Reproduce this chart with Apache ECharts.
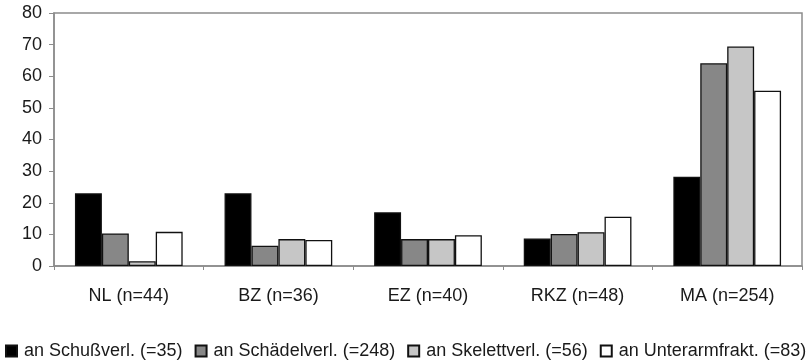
<!DOCTYPE html>
<html><head><meta charset="utf-8">
<script src="https://cdn.jsdelivr.net/npm/echarts@6/dist/echarts.min.js"></script>
<style>html,body{margin:0;padding:0;background:#fff}#c{width:812px;height:363px}</style>
</head><body><div id="c"></div>
<script>
const categories = ["NL (n=44)", "BZ (n=36)", "EZ (n=40)", "RKZ (n=48)", "MA (n=254)"];
const seriesNames = ["an Schußverl. (=35)", "an Schädelverl. (=248)", "an Skelettverl. (=56)", "an Unterarmfrakt. (=83)"];
const schuss = [23.0, 23.0, 17.0, 8.7, 28.2];
const schaedel = [10.3, 6.4, 8.5, 10.1, 64.1];
const skelett = [1.5, 8.5, 8.5, 10.7, 69.4];
const unterarm = [10.8, 8.2, 9.7, 15.6, 55.4];
const yTicks = [0, 10, 20, 30, 40, 50, 60, 70, 80];

const colors = ["#000000", "#878787", "#c6c6c6", "#ffffff"];
const values = [schuss, schaedel, skelett, unterarm];
const chart = echarts.init(document.getElementById('c'));
chart.setOption({
  animation: false,
  textStyle: { fontFamily: "Liberation Sans, Arial, sans-serif" },
  grid: { left: 54, right: 10, top: 13, bottom: 97, show: true, borderColor: '#8c8c8c', borderWidth: 1.5, containLabel: false },
  legend: {
    left: 0, top: 337, itemWidth: 11, itemHeight: 11, itemGap: 12,
    icon: 'rect',
    textStyle: { fontSize: 18, color: '#1a1a1a', padding: [0, 0, 0, 2] },
    data: seriesNames
  },
  xAxis: {
    type: 'category', data: categories,
    axisLine: { lineStyle: { color: '#8c8c8c', width: 1.5 } },
    axisTick: { show: true, length: 4, lineStyle: { color: '#8c8c8c' } },
    axisLabel: { fontSize: 18, color: '#1a1a1a', margin: 21 }
  },
  yAxis: {
    type: 'value', min: yTicks[0], max: yTicks[yTicks.length - 1], interval: 10,
    axisLine: { show: true, lineStyle: { color: '#8c8c8c', width: 1.5 } },
    axisTick: { show: true, length: 5, lineStyle: { color: '#8c8c8c' } },
    splitLine: { show: false },
    axisLabel: { fontSize: 18, color: '#1a1a1a', margin: 12 }
  },
  series: seriesNames.map((n, i) => ({
    name: n, type: 'bar', data: values[i],
    barGap: 0, barCategoryGap: '28%',
    itemStyle: { color: colors[i], borderColor: '#111', borderWidth: 1.3 }
  }))
});
</script></body></html>
